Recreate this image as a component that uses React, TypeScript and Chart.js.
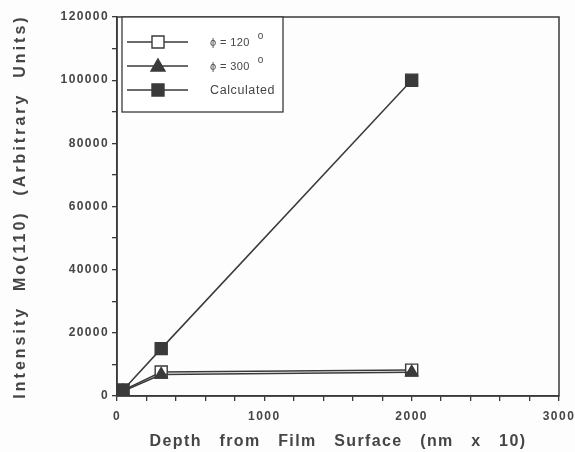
import React, { useEffect, useRef } from "react";
import { Chart, registerables } from "chart.js";

Chart.register(...registerables);

const depths = [40, 300, 2000];
const phi120 = [1800, 7600, 8200];
const phi300 = [1500, 6800, 7500];
const calculated = [1800, 15000, 100000];
const seriesLabels = ["ϕ = 120 °", "ϕ = 300 °", "Calculated"];
const xTitle = "Depth   from   Film   Surface   (nm   x   10)";
const yTitle = "Intensity  Mo(110)  (Arbitrary  Units)";

const INK = "#3a3a3a";
const TEXT = "#454545";
const FONT = "'Liberation Sans', Arial, sans-serif";

const withSpacing = (ctx: any, sp: string, fn: () => void) => {
  const prev = ctx.letterSpacing;
  ctx.letterSpacing = sp;
  try {
    fn();
  } finally {
    ctx.letterSpacing = prev;
  }
};

const spacing = {
  id: "spacing",
  afterLayout(chart: any) {
    const cfg: Record<string, [string, string]> = { x: ["1.5px", "1.4px"], y: ["1.4px", "3px"] };
    Object.keys(cfg).forEach((k) => {
      const s = chart.scales[k];
      if (!s || s.__patched) return;
      s.__patched = true;
      const dl = s.drawLabels.bind(s);
      const dt = s.drawTitle.bind(s);
      s.drawLabels = (area: any) => withSpacing(chart.ctx, cfg[k][0], () => dl(area));
      s.drawTitle = (area: any) => withSpacing(chart.ctx, cfg[k][1], () => dt(area));
    });
  },
};

const frame = {
  id: "frame",
  afterDatasetsDraw(chart: any) {
    const { ctx, chartArea: a } = chart;
    ctx.save();
    ctx.strokeStyle = INK;
    ctx.lineWidth = 1.5;
    ctx.strokeRect(a.left, a.top, a.right - a.left, a.bottom - a.top);
    ctx.restore();
  },
};

const boxLegend = {
  id: "boxLegend",
  afterDraw(chart: any) {
    const { ctx, chartArea: a } = chart;
    const x0 = a.left + 5;
    const y0 = a.top;
    const w = 161;
    const h = 95;
    ctx.save();
    ctx.fillStyle = "#ffffff";
    ctx.fillRect(x0, y0, w, h);
    ctx.strokeStyle = INK;
    ctx.lineWidth = 1.3;
    ctx.strokeRect(x0, y0, w, h);
    const rows = [25, 49, 73];
    chart.data.datasets.forEach((ds: any, i: number) => {
      const y = y0 + rows[i];
      ctx.strokeStyle = INK;
      ctx.lineWidth = 1.4;
      ctx.beginPath();
      ctx.moveTo(x0 + 5, y);
      ctx.lineTo(x0 + 66, y);
      ctx.stroke();
      const cx = x0 + 36;
      ctx.fillStyle = ds.pointBackgroundColor;
      ctx.strokeStyle = INK;
      ctx.lineWidth = 1.4;
      ctx.beginPath();
      if (ds.pointStyle === "triangle") {
        ctx.moveTo(cx, y - 7);
        ctx.lineTo(cx + 7, y + 5);
        ctx.lineTo(cx - 7, y + 5);
        ctx.closePath();
      } else {
        ctx.rect(cx - 6, y - 6, 12, 12);
      }
      ctx.fill();
      ctx.stroke();
      const label: string = ds.label;
      const parts = label.split(" °");
      ctx.fillStyle = TEXT;
      ctx.textBaseline = "middle";
      ctx.textAlign = "left";
      if (parts.length > 1) {
        ctx.font = `11px ${FONT}`;
        ctx.letterSpacing = "0.4px";
        ctx.fillText(parts[0], x0 + 88, y + 1);
        const tw = ctx.measureText(parts[0]).width;
        ctx.font = `10px ${FONT}`;
        ctx.letterSpacing = "0px";
        ctx.fillText("o", x0 + 88 + tw + 8, y - 6);
      } else {
        ctx.font = `12.5px ${FONT}`;
        ctx.letterSpacing = "0.6px";
        ctx.fillText(label, x0 + 88, y + 1);
      }
      ctx.letterSpacing = "0px";
    });
    ctx.restore();
  },
};

export default function App() {
  const ref = useRef<HTMLCanvasElement | null>(null);
  useEffect(() => {
    const canvas = ref.current;
    if (!canvas) return;
    const mk = (label: string, data: number[], style: string, fill: string, order: number, r: number) => ({
      label,
      data: depths.map((x, i) => ({ x, y: data[i] })),
      borderColor: INK,
      borderWidth: 1.5,
      pointStyle: style,
      pointRadius: r,
      pointBorderWidth: 1.4,
      pointBorderColor: INK,
      pointBackgroundColor: fill,
      order,
      tension: 0,
    });
    const chart = new Chart(canvas, {
      type: "line",
      data: {
        datasets: [
          mk(seriesLabels[0], phi120, "rect", "#ffffff", 3, 8.5),
          mk(seriesLabels[1], phi300, "triangle", INK, 2, 7),
          mk(seriesLabels[2], calculated, "rect", INK, 1, 8.5),
        ],
      },
      options: {
        animation: false,
        responsive: false,
        layout: { padding: { left: 0, top: 17, right: 16, bottom: 0 } },
        plugins: { legend: { display: false }, tooltip: { enabled: false } },
        scales: {
          x: {
            type: "linear",
            min: 0,
            max: 3000,
            afterFit: (s: any) => {
              s.height = 56;
              s.paddingLeft = 0;
              s.paddingRight = 0;
            },
            ticks: {
              stepSize: 200,
              autoSkip: false,
              maxRotation: 0,
              padding: 8,
              color: TEXT,
              font: { family: FONT, size: 12, weight: "bold" },
              callback: (v: any) => (Number(v) % 1000 === 0 ? String(v) : ""),
            },
            grid: { drawOnChartArea: false, drawTicks: true, tickLength: 5, color: INK, lineWidth: 1.3 },
            border: { display: true, color: INK, width: 1.5 },
            title: {
              display: true,
              text: xTitle,
              color: TEXT,
              font: { family: FONT, size: 16, weight: "bold" },
              padding: { top: 4, bottom: 1 },
            },
          },
          y: {
            type: "linear",
            min: 0,
            max: 120000,
            afterFit: (s: any) => {
              s.width = 117;
              s.paddingTop = 0;
              s.paddingBottom = 0;
            },
            ticks: {
              stepSize: 10000,
              autoSkip: false,
              padding: 3,
              color: TEXT,
              font: { family: FONT, size: 12, weight: "bold" },
              callback: (v: any) => (Number(v) % 20000 === 0 ? String(v) : ""),
            },
            grid: { drawOnChartArea: false, drawTicks: true, tickLength: 5, color: INK, lineWidth: 1.3 },
            border: { display: true, color: INK, width: 1.5 },
            title: {
              display: true,
              text: yTitle,
              color: TEXT,
              font: { family: FONT, size: 16, weight: "bold" },
              padding: { top: 11, bottom: 4 },
            },
          },
        },
      },
      plugins: [spacing, frame, boxLegend],
    } as any);
    return () => chart.destroy();
  }, []);
  return (
    <div style={{ position: "fixed", left: 0, top: 0, width: 575, height: 452, background: "#fdfdfd" }}>
      <canvas ref={ref} width={575} height={452} />
    </div>
  );
}
